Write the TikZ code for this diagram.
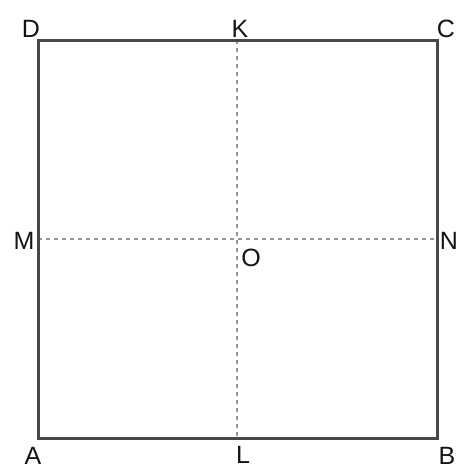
\documentclass[tikz,border=0pt]{standalone}
\usepackage{fontspec}
\setmainfont{Liberation Sans}
\begin{document}
\begin{tikzpicture}[x=1pt,y=-1pt,
  edge/.style={draw=black!72,line width=3pt},
  guide/.style={draw=black!42,line width=2.8pt,dash pattern=on 3.5pt off 4.5pt},
  lbl/.style={font=\fontsize{25}{25}\selectfont,text=black!92,inner sep=0pt,anchor=base}]
\useasboundingbox (0,0) rectangle (459,469);
\coordinate (A) at (38,438);
\coordinate (B) at (437,438);
\coordinate (C) at (437,40);
\coordinate (D) at (38,40);
\coordinate (K) at (237,40);
\coordinate (L) at (237,438);
\coordinate (M) at (38,239);
\coordinate (N) at (437,239);
\draw[guide] (K) -- (L);
\draw[guide] (M) -- (N);
\draw[edge,line join=miter] (A) -- (B) -- (C) -- (D) -- cycle;
\node[lbl] (lD) at (31,37) {D};
\node[lbl] (lK) at (240,37) {K};
\node[lbl] (lC) at (446,37) {C};
\node[lbl] (lM) at (24,249) {M};
\node[lbl] (lN) at (449,249) {N};
\node[lbl] (lO) at (251,266) {O};
\node[lbl] (lA) at (33,464) {A};
\node[lbl] (lL) at (243,463) {L};
\node[lbl] (lB) at (447,464) {B};
\end{tikzpicture}
\end{document}
